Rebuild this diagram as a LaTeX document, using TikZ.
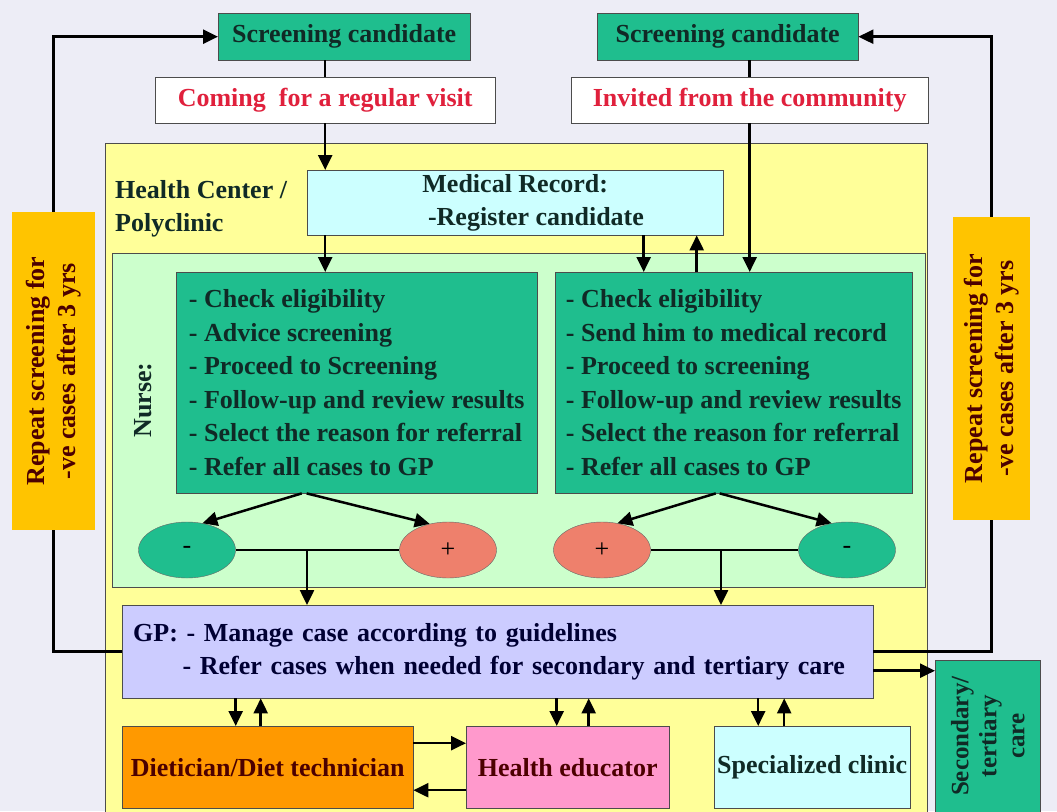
\documentclass[tikz,border=0pt]{standalone}
\usepackage{fontspec}
\setmainfont{Liberation Serif}
\usetikzlibrary{arrows.meta,shapes.geometric}

\definecolor{bgcol}{HTML}{EDEDF6}
\definecolor{teal}{HTML}{1FBE8E}
\definecolor{hcyellow}{HTML}{FFFF99}
\definecolor{nursegreen}{HTML}{CCFFCC}
\definecolor{paleblue}{HTML}{CCFFFF}
\definecolor{gpblue}{HTML}{CCCCFF}
\definecolor{dietorange}{HTML}{FF9900}
\definecolor{eduPink}{HTML}{FF99CC}
\definecolor{repgold}{HTML}{FFC400}
\definecolor{salmon}{HTML}{EE806C}
\definecolor{txtred}{HTML}{E0203C}
\definecolor{txtdark}{HTML}{102A26}

\begin{document}
\begin{tikzpicture}[x=1pt,y=-1pt,
  box/.style={draw=black!70,thin,anchor=north west,inner sep=0pt,
    font=\fontsize{26}{33.5}\selectfont\bfseries,text=txtdark},
  listbox/.style={box,fill=teal,align=left},
  sign/.style={ellipse,draw=black!60,thin,minimum width=97,minimum height=56,
    font=\fontsize{26}{26}\selectfont},
  arr/.style={-{Triangle[length=15pt,width=14pt]},line width=2.5pt},
  ln/.style={line width=2.5pt}]

\fill[bgcol] (0,0) rectangle (1057,811);
\useasboundingbox (0,0) rectangle (1057,811);

% health center and nurse area
\node[box,fill=hcyellow,minimum width=822,minimum height=700] (hc) at (105,143) {};
\node[box,draw=none,align=left] (hctext) at (115,180) {Health Center /\\ Polyclinic};
\node[box,fill=paleblue,minimum width=416,minimum height=65,align=center] (mr) at (307,170)
  {Medical Record:\\\hspace*{1.6em}-Register candidate};
\node[box,fill=nursegreen,minimum width=813,minimum height=334] (nurse) at (112,253) {};
\node[box,draw=none,anchor=center,rotate=90] (nursetext) at (143,400) {Nurse:};

\node[listbox,minimum width=361,minimum height=221] (nurseL) at (176,272)
  {- Check eligibility\\ - Advice screening\\ - Proceed to Screening\\
   - Follow-up and review results\\ - Select the reason for referral\\ - Refer all cases to GP};
\node[listbox,minimum width=357,minimum height=221] (nurseR) at (555,272)
  {- Check eligibility\\ - Send him to medical record\\ - Proceed to screening\\
   - Follow-up and review results\\ - Select the reason for referral\\ - Refer all cases to GP};

\node[sign,fill=teal] (lm) at (187,550) {-};
\node[sign,fill=salmon] (lp) at (448,550) {+};
\node[sign,fill=salmon] (rp) at (602,550) {+};
\node[sign,fill=teal] (rm) at (847,550) {-};
\coordinate (jl) at (307,550);
\coordinate (jr) at (721,550);

% top entries
\node[box,fill=teal,minimum width=252,minimum height=47] (scrL) at (218,13) {Screening candidate};
\node[box,fill=teal,minimum width=261,minimum height=47] (scrR) at (597,13) {Screening candidate};
\node[box,fill=white,minimum width=340,minimum height=46,text=txtred] (come) at (155,77) {Coming\ \ for a regular visit};
\node[box,fill=white,minimum width=357,minimum height=46,text=txtred] (inv) at (571,77) {Invited from the community};

% GP and services
\node[box,fill=gpblue,minimum width=751,minimum height=93,align=left,inner xsep=11pt,
  text width=729,text=black!80!blue] (gp) at (122,605)
  {GP: - Manage case according to guidelines\\\hspace*{1.9em}- Refer cases when needed for secondary and tertiary care};
\node[box,fill=dietorange,minimum width=291,minimum height=82,text=black!70!red] (diet) at (122,726) {Dietician/Diet technician};
\node[box,fill=eduPink,minimum width=203,minimum height=82,text=black!70!red] (edu) at (466,726) {Health educator};
\node[box,fill=paleblue,minimum width=196,minimum height=82] (spec) at (714,726) {Specialized clinic};
\node[box,fill=teal,minimum width=105,minimum height=170] (sec) at (935,660) {};
\node[box,draw=none,anchor=center,rotate=90,align=center,font=\fontsize{25}{28}\selectfont\bfseries] (sectext) at ([yshift=9pt]sec.center) {Secondary/\\tertiary\\care};

% repeat screening
\node[box,fill=repgold,draw=none,minimum width=83,minimum height=318] (repL) at (12,212) {};
\node[box,draw=none,anchor=center,rotate=90,align=center,font=\fontsize{26}{31}\selectfont\bfseries,text=black!70!red] (repLtext) at (repL.center)
  {Repeat screening for\\-ve cases after 3 yrs};
\node[box,fill=repgold,draw=none,minimum width=77,minimum height=303] (repR) at (953,217) {};
\node[box,draw=none,anchor=center,rotate=90,align=center,font=\fontsize{26}{31}\selectfont\bfseries,text=black!70!red] (repRtext) at (repR.center)
  {Repeat screening for\\-ve cases after 3 yrs};

% connectors
\draw[ln] (come.north |- scrL.south) -- (come.north);
\draw[arr] (come.south) -- (come.south |- mr.north);
\draw[arr] (come.south |- mr.south) -- (come.south |- nurseL.north);
\draw[ln] (inv.north |- scrR.south) -- (inv.north);
\draw[arr] (inv.south) -- (inv.south |- nurseR.north);
\draw[arr] ([xshift=-90pt]nurseR.north |- mr.south) -- ([xshift=-90pt]nurseR.north);
\draw[arr] ([xshift=-37pt]nurseR.north) -- ([xshift=-37pt]nurseR.north |- mr.south);

\draw[arr] ([xshift=-55pt]nurseL.south) -- (lm.60);
\draw[arr] ([xshift=-50pt]nurseL.south) -- (lp.125);
\draw[arr] ([xshift=-18pt]nurseR.south) -- (rp.60);
\draw[arr] ([xshift=-14pt]nurseR.south) -- (rm.120);
\draw[ln] (lm.east) -- (lp.west);
\draw[ln] (rp.east) -- (rm.west);
\draw[arr] (jl) -- (jl |- gp.north);
\draw[arr] (jr) -- (jr |- gp.north);

\draw[ln] (gp.west) -| (repL.south);
\draw[arr] (repL.north) |- (scrL.west);
\draw[ln] (gp.east) -| (repR.south);
\draw[arr] (repR.north) |- (scrR.east);
\draw[arr] ([yshift=-19pt]gp.east) -- ([yshift=-19pt]gp.east -| sec.west);

\draw[arr] ([xshift=-32pt]diet.north |- gp.south) -- ([xshift=-32pt]diet.north);
\draw[arr] ([xshift=-7pt]diet.north) -- ([xshift=-7pt]diet.north |- gp.south);
\draw[arr] ([xshift=-11pt]edu.north |- gp.south) -- ([xshift=-11pt]edu.north);
\draw[arr] ([xshift=21pt]edu.north) -- ([xshift=21pt]edu.north |- gp.south);
\draw[arr] ([xshift=-54pt]spec.north |- gp.south) -- ([xshift=-54pt]spec.north);
\draw[arr] ([xshift=-28pt]spec.north) -- ([xshift=-28pt]spec.north |- gp.south);
\draw[arr] ([yshift=24pt]diet.east) -- ([yshift=24pt]diet.east -| edu.west);
\draw[arr] ([yshift=-23pt]edu.west) -- ([yshift=-23pt]edu.west -| diet.east);
\end{tikzpicture}
\end{document}
